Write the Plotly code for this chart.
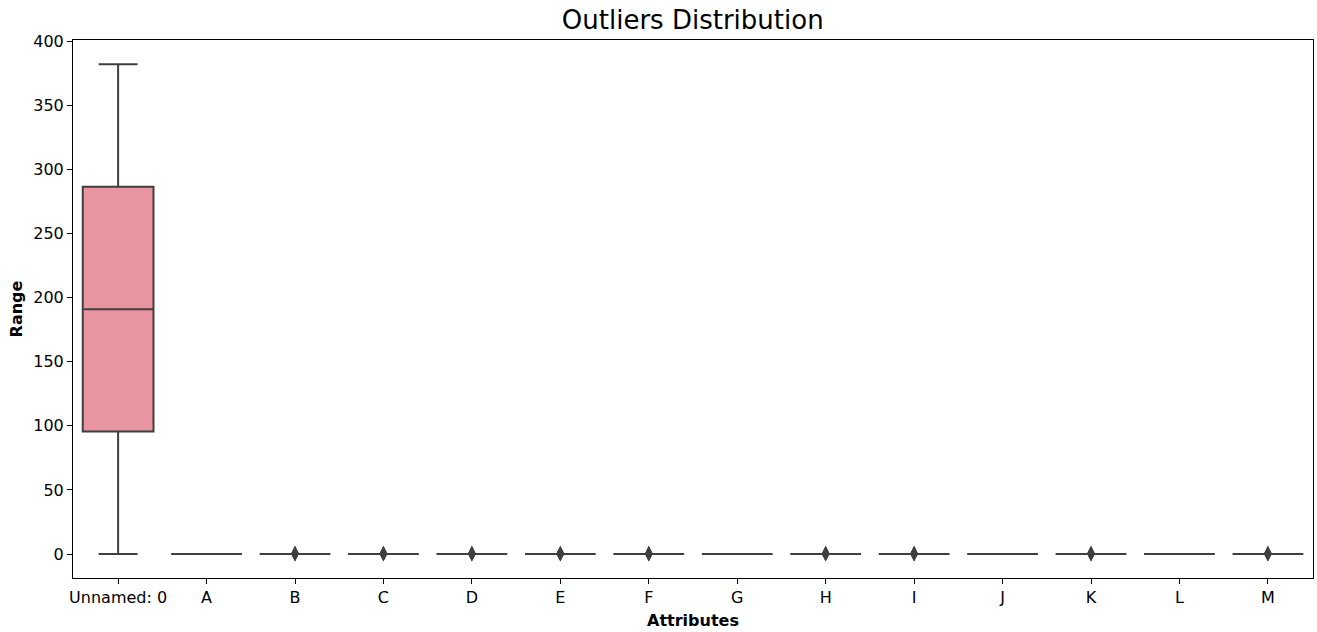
import plotly.graph_objects as go

categories = ["Unnamed: 0", "A", "B", "C", "D", "E", "F", "G", "H", "I", "J", "K", "L", "M"]
q1 = [95.5, 0, 0, 0, 0, 0, 0, 0, 0, 0, 0, 0, 0, 0]
median = [191, 0, 0, 0, 0, 0, 0, 0, 0, 0, 0, 0, 0, 0]
q3 = [286.5, 0, 0, 0, 0, 0, 0, 0, 0, 0, 0, 0, 0, 0]
lower = [0, 0, 0, 0, 0, 0, 0, 0, 0, 0, 0, 0, 0, 0]
upper = [382, 0, 0, 0, 0, 0, 0, 0, 0, 0, 0, 0, 0, 0]
outliers = {
    "B": [0.1, 0.3, 0.5],
    "C": [0.1, 0.3, 0.5],
    "D": [0.1, 0.3, 0.5],
    "E": [0.1, 0.3, 0.5],
    "F": [0.1, 0.3, 0.5],
    "H": [0.1, 0.3, 0.5],
    "I": [0.1, 0.3, 0.5],
    "K": [0.1, 0.3, 0.5],
    "M": [0.1, 0.3, 0.5],
}
colors = ["#e9959f", "#d99d6a", "#b9a868", "#a0ae6b", "#6db46f", "#6db294", "#6eb0a7",
          "#70aeb8", "#73a9cb", "#91a0d9", "#b295d9", "#d08cd5", "#e08bbd", "#e691ab"]

line_col = "#3f3f3f"
fig = go.Figure()
for i, c in enumerate(categories):
    fig.add_trace(go.Box(
        x=[c], q1=[q1[i]], median=[median[i]], q3=[q3[i]],
        lowerfence=[lower[i]], upperfence=[upper[i]],
        fillcolor=colors[i], line=dict(color=line_col, width=2),
        width=0.8, whiskerwidth=0.55, boxpoints=False, showlegend=False,
        hoverinfo="skip",
    ))

for c, vals in outliers.items():
    fig.add_trace(go.Scatter(
        x=[c] * len(vals), y=vals, mode="markers",
        marker=dict(symbol="diamond-tall", size=11, color=line_col,
                    line=dict(width=0)),
        showlegend=False, hoverinfo="skip",
    ))

fig.update_layout(
    width=1317, height=632,
    margin=dict(l=73, r=4, t=40, b=54),
    paper_bgcolor="white", plot_bgcolor="white",
    font=dict(family="DejaVu Sans", size=16, color="black"),
    title=dict(text="Outliers Distribution", x=0.526, xanchor="center", y=0.968,
               yanchor="middle", font=dict(size=26, color="black")),
    boxmode="overlay",
    xaxis=dict(
        type="category", categoryorder="array", categoryarray=categories,
        range=[-0.51, 13.51], automargin=False,
        showline=True, linecolor="black", linewidth=1, mirror=True,
        ticks="outside", ticklen=5, tickcolor="black", showgrid=False,
        zeroline=False, tickfont=dict(size=16),
        title=dict(text="<b>Attributes</b>", standoff=8, font=dict(size=16)),
    ),
    yaxis=dict(
        range=[-18.7, 401], tickvals=[0, 50, 100, 150, 200, 250, 300, 350, 400],
        automargin=False,
        showline=True, linecolor="black", linewidth=1, mirror=True,
        ticks="outside", ticklen=5, tickcolor="black", showgrid=False,
        zeroline=False, tickfont=dict(size=16),
        title=dict(text="<b>Range</b>", standoff=6, font=dict(size=16)),
    ),
)

fig.write_html("out.html", config={"displayModeBar": False},
               post_script="document.body.style.margin='0px';")
